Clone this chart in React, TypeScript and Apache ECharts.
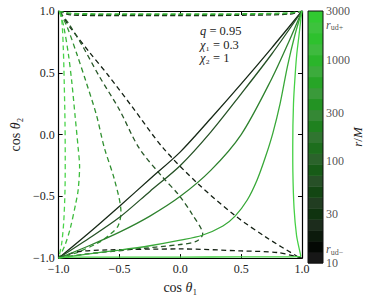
import React, { useEffect, useRef } from "react";
import * as echarts from "echarts";

// ---- data ----
const axisTicks = [-1, -0.5, 0, 0.5, 1];

// solid curves (dark -> bright)
const solid1 = [[-1, -1], [-0.75, -0.795], [-0.5, -0.58], [-0.25, -0.36], [0, -0.14], [0.25, 0.13], [0.5, 0.41], [0.75, 0.7], [1, 1]];
const solid2 = [[-1, -1], [-0.75, -0.84], [-0.5, -0.67], [-0.25, -0.46], [0, -0.25], [0.25, 0.02], [0.5, 0.33], [0.75, 0.65], [1, 1]];
const solid3 = [[-1, -1], [-0.75, -0.9], [-0.5, -0.79], [-0.25, -0.66], [0, -0.5], [0.25, -0.29], [0.5, 0.0], [0.75, 0.45], [0.9, 0.77], [1, 1]];
const solid4 = [[-1, -1], [-0.75, -0.965], [-0.5, -0.935], [-0.25, -0.9], [0, -0.855], [0.18, -0.815], [0.35, -0.74], [0.45, -0.66], [0.55, -0.53], [0.63, -0.37], [0.7, -0.18], [0.76, 0.01], [0.82, 0.25], [0.88, 0.55], [0.94, 0.8], [1, 1]];
const solid5 = [[-1, -1], [-0.9, -0.992], [-0.5, -0.992], [0, -0.992], [0.5, -0.99], [0.85, -0.99], [0.97, -0.988], [0.99, -0.985], [0.976, -0.92], [0.955, -0.815], [0.935, -0.6], [0.925, -0.3], [0.924, -0.1], [0.93, 0.25], [0.945, 0.5], [0.957, 0.65], [0.975, 0.8], [0.99, 0.93], [1, 1]];

// dashed curves (dark -> bright)
const dashed1 = [[-0.99, 0.99], [-0.9, 0.86], [-0.75, 0.67], [-0.59, 0.476], [-0.4, 0.23], [-0.144, -0.106], [0.137, -0.391], [0.45, -0.656], [0.7, -0.828], [0.96, -0.985], [1, -1]];
const dashed1b = [[1, -1], [0.8, -0.955], [0.5, -0.942], [0, -0.926], [-0.6, -0.934], [-0.85, -0.95], [-1, -1]];
const dashed2 = [[-0.99, 0.99], [-0.919, 0.9], [-0.8, 0.71], [-0.669, 0.476], [-0.5, 0.2], [-0.341, -0.106], [-0.15, -0.34], [-0.013, -0.489], [0.1, -0.65], [0.184, -0.807], [0.13, -0.865], [0, -0.89], [-0.4, -0.93], [-0.8, -0.97], [-1, -1]];
const dashed3 = [[-0.99, 0.99], [-0.931, 0.873], [-0.85, 0.65], [-0.774, 0.424], [-0.69, 0.16], [-0.625, -0.106], [-0.54, -0.37], [-0.488, -0.63], [-0.512, -0.74], [-0.58, -0.81], [-0.669, -0.873], [-0.85, -0.955], [-1, -1]];
const dashed4 = [[-0.99, 0.99], [-0.958, 0.873], [-0.92, 0.65], [-0.892, 0.424], [-0.865, 0.15], [-0.84, -0.106], [-0.828, -0.26], [-0.84, -0.45], [-0.858, -0.55], [-0.906, -0.764], [-0.95, -0.9], [-1, -1]];
const dashed5 = [[-0.995, 0.995], [-0.975, 0.93], [-0.962, 0.7], [-0.955, 0.45], [-0.948, 0.1], [-0.946, -0.2], [-0.948, -0.45], [-0.958, -0.7], [-0.975, -0.88], [-1, -1]];
// dashed branches along the top edge
const top1 = [[-1, 1], [-0.9, 0.968], [-0.5, 0.962], [0, 0.962], [0.5, 0.965], [0.9, 0.975], [1, 1]];
const top2 = [[-1, 1], [-0.9, 0.975], [-0.5, 0.97], [0, 0.97], [0.5, 0.972], [0.9, 0.98], [1, 1]];
const top3 = [[-1, 1], [-0.9, 0.982], [-0.5, 0.977], [0, 0.976], [0.5, 0.978], [0.9, 0.985], [1, 1]];

const solidColors = ["#172917", "#265226", "#2e822e", "#38a838", "#45d045"];
const dashedColors = ["#132013", "#285828", "#2f8f2f", "#3cbc3c", "#4ad44a"];

// colorbar (bottom -> top)
const cbarMin = 10;
const cbarMax = 3000;
const cbarColors = [
  "#171717", "#040804", "#0c1a0c", "#1c2c1c", "#0f330f", "#213d21", "#134613", "#275027",
  "#175b17", "#2b632b", "#1d6e1d", "#307530", "#1f811f", "#358835", "#239323", "#3a9a3a",
  "#27a527", "#3cab3c", "#2bb52b", "#3eba3e", "#2ec12e", "#3dc23d", "#31c931",
];
const cbarLabelValues = [10, 13.6, 30, 100, 300, 1000, 2190, 3000];
const cbarLabelTexts = ["10", "{r|r}{s|ud−}", "30", "100", "300", "1000", "{r|r}{s|ud+}", "3000"];

const annotationLines = ["{i|q} = 0.95", "{i|χ}₁ = 0.3", "{i|χ}₂ = 1"];

const serif = "Liberation Serif, DejaVu Serif, serif";
const ink = "#222";

export default function App() {
  const ref = useRef<HTMLDivElement>(null);
  useEffect(() => {
    if (!ref.current) return;
    const chart = echarts.init(ref.current, undefined, { renderer: "svg" });

    const fmt = (v: number) => v.toFixed(1).replace("-", "−");
    const mainAxisCommon = {
      type: "value" as const,
      min: -1,
      max: 1,
      interval: 0.5,
      gridIndex: 0,
      splitLine: { show: false },
      axisLine: { show: true, onZero: false, lineStyle: { color: "#000", width: 1.2 } },
      axisTick: { show: true, inside: true, length: 4, lineStyle: { color: "#000" } },
    };
    const xLabelStyle = { fontFamily: serif, fontSize: 12, color: ink, margin: 5, formatter: fmt };
    const yLabelStyle = { fontFamily: serif, fontSize: 12, color: ink, margin: 4, formatter: fmt };

    const solids = [solid1, solid2, solid3, solid4, solid5];
    const dashes = [dashed1, dashed2, dashed3, dashed4, dashed5];

    const series: any[] = [];
    [top1, top2, top3].forEach((d, i) => {
      series.push({
        type: "line", data: d, xAxisIndex: 0, yAxisIndex: 0, symbol: "none", smooth: 0.3,
        lineStyle: { color: dashedColors[[0, 2, 3][i]], width: 1.2, type: [5, 3] },
      });
    });
    dashes.forEach((d, i) => {
      series.push({
        type: "line", data: d, xAxisIndex: 0, yAxisIndex: 0, symbol: "none", smooth: 0.3,
        lineStyle: { color: dashedColors[i], width: 1.3, type: [5, 3.5] },
      });
    });
    series.push({
      type: "line", data: dashed1b, xAxisIndex: 0, yAxisIndex: 0, symbol: "none", smooth: 0.3,
      lineStyle: { color: dashedColors[0], width: 1.3, type: [5, 3.5] },
    });
    solids.forEach((d, i) => {
      series.push({
        type: "line", data: d, xAxisIndex: 0, yAxisIndex: 0, symbol: "none", smooth: 0.3,
        lineStyle: { color: solidColors[i], width: 1.3 },
      });
    });

    const n = cbarColors.length;
    const bandData = cbarColors.map((c, i) => [
      0.5,
      cbarMin * Math.pow(cbarMax / cbarMin, i / n),
      cbarMin * Math.pow(cbarMax / cbarMin, (i + 1) / n),
      i,
    ]);
    series.push({
      type: "custom",
      xAxisIndex: 1,
      yAxisIndex: 2,
      data: bandData,
      encode: { x: 0, y: [1, 2] },
      renderItem: (params: any, api: any) => {
        const lo = api.value(1);
        const hi = api.value(2);
        const idx = api.value(3);
        const p0 = api.coord([0, hi]);
        const p1 = api.coord([1, lo]);
        const children: any[] = [
          {
            type: "rect",
            shape: { x: p0[0], y: p0[1], width: p1[0] - p0[0], height: p1[1] - p0[1] + 0.5 },
            style: { fill: cbarColors[idx] },
          },
        ];
        if (idx === n - 1) {
          const a = api.coord([0, cbarMax]);
          const b = api.coord([1, cbarMin]);
          children.push({
            type: "rect",
            shape: { x: a[0], y: a[1], width: b[0] - a[0], height: b[1] - a[1] },
            style: { fill: "none", stroke: "#111", lineWidth: 1 },
            z2: 10,
          });
        }
        return { type: "group", children };
      },
    });
    series.push({
      type: "scatter",
      xAxisIndex: 1,
      yAxisIndex: 2,
      symbolSize: 0,
      itemStyle: { color: ink },
      data: cbarLabelValues.map((v, i) => [1, v, cbarLabelTexts[i]]),
      label: {
        show: true,
        position: "right",
        distance: 3,
        formatter: (p: any) => p.data[2],
        fontFamily: serif,
        fontSize: 12,
        color: ink,
        rich: {
          r: { fontFamily: serif, fontStyle: "italic", fontSize: 12, color: ink },
          s: { fontFamily: serif, fontSize: 8, color: ink, padding: [6, 0, 0, 0] },
        },
      },
      silent: true,
    });

    const nameRich = {
      n: { fontFamily: serif, fontSize: 14, color: ink },
      i: { fontFamily: serif, fontSize: 14, fontStyle: "italic", color: ink },
    };

    const annotation = annotationLines.map((t, k) => ({
      type: "text", x: 200, y: 31 + k * 13.5,
      style: {
        text: t, verticalAlign: "middle", fill: ink,
        font: `12.5px ${serif}`,
        rich: { i: { fontFamily: serif, fontSize: 12.5, fontStyle: "italic", fill: ink } },
      },
    }));

    chart.setOption({
      animation: false,
      backgroundColor: "#fff",
      grid: [
        { left: 48, top: 11, width: 254, height: 252 },
        { left: 308, top: 11, width: 15, height: 252 },
      ],
      xAxis: [
        {
          ...mainAxisCommon,
          position: "bottom",
          axisLabel: xLabelStyle,
          name: "{n|cos }{i|θ}{n|₁}",
          nameLocation: "middle",
          nameGap: 17,
          nameTextStyle: { rich: nameRich },
        },
        { type: "value", gridIndex: 1, min: 0, max: 1, show: false },
        { ...mainAxisCommon, position: "top", axisLabel: { show: false } },
      ],
      yAxis: [
        {
          ...mainAxisCommon,
          position: "left",
          axisLabel: yLabelStyle,
          name: "{n|cos }{i|θ}{n|₂}",
          nameLocation: "middle",
          nameGap: 29,
          nameRotate: 90,
          nameTextStyle: { rich: nameRich },
        },
        { ...mainAxisCommon, position: "right", axisLabel: { show: false } },
        { type: "log", gridIndex: 1, min: cbarMin, max: cbarMax, logBase: 10, show: false },
      ],
      series,
      graphic: [
        ...annotation,
        {
          type: "text", x: 357, y: 137, rotation: Math.PI / 2,
          style: {
            text: "{i|r}/{i|M}", align: "center", verticalAlign: "middle", fill: ink,
            font: `13px ${serif}`,
            rich: { i: { fontFamily: serif, fontSize: 13, fontStyle: "italic", fill: ink } },
          },
        },
      ],
    });
    return () => chart.dispose();
  }, []);
  return <div ref={ref} style={{ width: 367, height: 299, position: "absolute", left: 0, top: 0 }} />;
}
